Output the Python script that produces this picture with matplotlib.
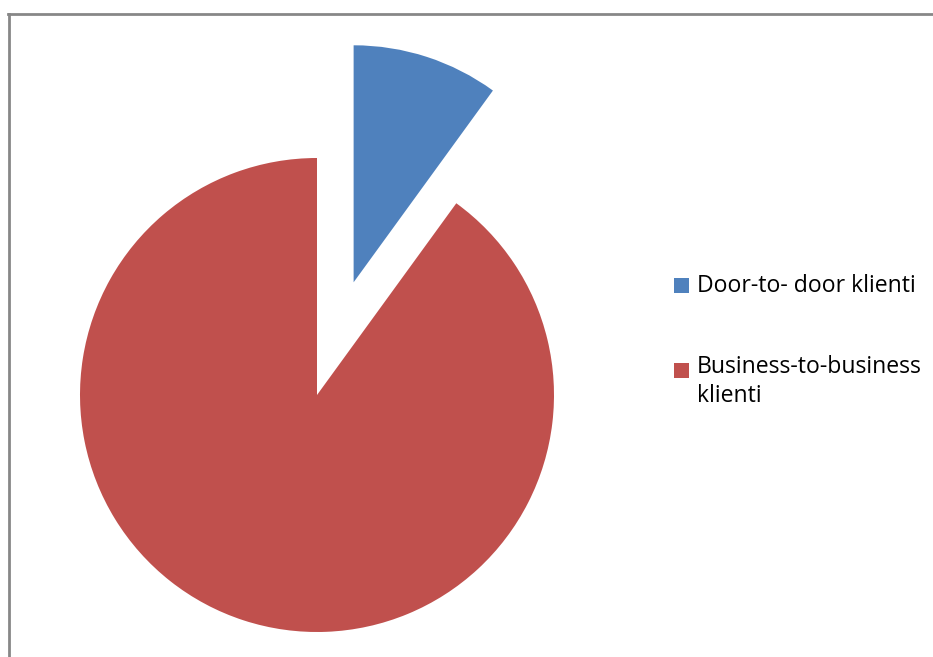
import matplotlib
matplotlib.use("Agg")
import matplotlib.pyplot as plt
from matplotlib.lines import Line2D
from matplotlib.patches import Rectangle

labels = ["Door-to- door klienti", "Business-to-business\nklienti"]
values = [10, 90]
colors = ["#4F81BD", "#C0504D"]
explode = [0.5, 0.0]

W, H, DPI = 933, 657, 100
fig = plt.figure(figsize=(W / DPI, H / DPI), dpi=DPI)
fig.patch.set_facecolor("white")

# pie center (317, 395) px, radius 237 px
cx, cy, r = 317, 395, 237
ax = fig.add_axes([0, 0, 1, 1])
ax.axis("off")

wedges, _ = ax.pie(values, colors=colors, explode=explode, startangle=90,
                   counterclock=False, radius=1.0, center=(0, 0),
                   wedgeprops=dict(linewidth=0))
ax.set_aspect("equal")
ax.set_xlim(-cx / r, (W - cx) / r)
ax.set_ylim((cy - H) / r, cy / r)

# frame (top and left visible)
fig.add_artist(Line2D([8 / W, 932 / W], [1 - 14 / H, 1 - 14 / H],
                      transform=fig.transFigure, color="#878787", lw=2))
fig.add_artist(Line2D([8.5 / W, 8.5 / W], [1 - 14 / H, 0],
                      transform=fig.transFigure, color="#878787", lw=2))

# legend
sq_tops = [278, 363]
baselines = [292, 373]
line_gap = 29
for lab, col, top, base in zip(labels, colors, sq_tops, baselines):
    fig.add_artist(Rectangle((674 / W, 1 - (top + 14.5) / H), 14.5 / W, 14.5 / H,
                             transform=fig.transFigure, color=col, lw=0))
    for i, line in enumerate(lab.split("\n")):
        fig.text(697 / W, 1 - (base + i * line_gap) / H, line, fontsize=16.6,
                 family="Open Sans", va="baseline", ha="left", color="black")

fig.savefig("out.png", dpi=DPI)
